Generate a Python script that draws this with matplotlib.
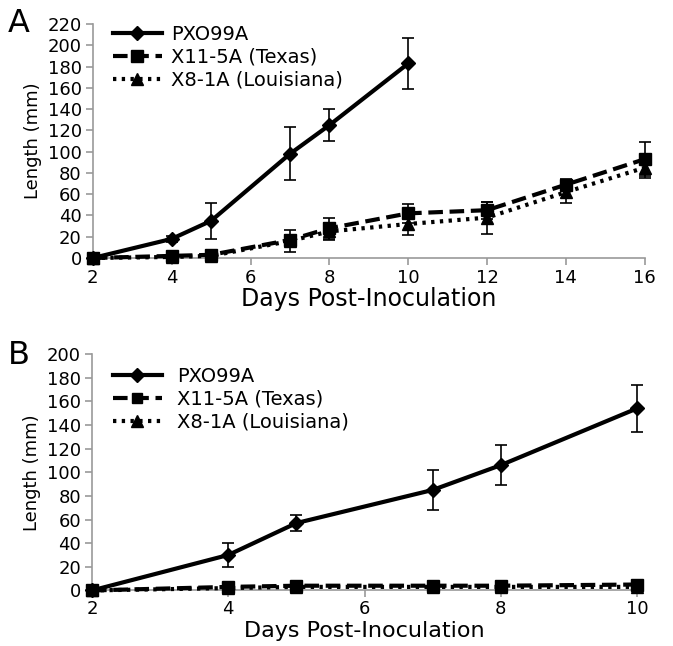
import matplotlib.pyplot as plt
from matplotlib.lines import Line2D

plt.rcParams['font.family'] = ['DejaVu Sans']

# Panel A data
days_a_pxo = [2, 4, 5, 7, 8, 10]
pxo_a = [0, 18, 35, 98, 125, 183]
pxo_a_err = [0, 3, 17, 25, 15, 24]

days_a = [2, 4, 5, 7, 8, 10, 12, 14, 16]
tex_a = [0, 2, 3, 17, 28, 42, 45, 69, 93]
tex_a_err = [0, 1, 2, 5, 10, 9, 8, 5, 16]
lou_a = [0, 1, 2, 16, 25, 32, 38, 62, 85]
lou_a_err = [0, 1, 2, 10, 8, 10, 15, 10, 10]

# Panel B data
days_b = [2, 4, 5, 7, 8, 10]
pxo_b = [0, 30, 57, 85, 106, 154]
pxo_b_err = [0, 10, 7, 17, 17, 20]
tex_b = [0, 3, 4, 4, 4, 5]
tex_b_err = [0, 1, 1, 1, 1, 1]
lou_b = [0, 2, 3, 3, 3, 3]
lou_b_err = [0, 1, 1, 1, 1, 1]

labels = ["PXO99A", "X11-5A (Texas)", "X8-1A (Louisiana)"]

DASH = (0, (3.5, 1.6))
DOT = (0, (0.8, 1.3))

fig = plt.figure(figsize=(6.73, 6.46), dpi=100)
ax_a = fig.add_axes([0.138, 0.6006, 0.820, 0.362])
ax_b = fig.add_axes([0.1367, 0.086, 0.810, 0.366])

def style(ax, xticks, ylim, yticks, xlabel_y, xsize, pad):
    for s in ["top", "right"]:
        ax.spines[s].set_visible(False)
    for s in ["left", "bottom"]:
        ax.spines[s].set_color("#999999")
        ax.spines[s].set_linewidth(1.2)
    ax.set_xticks(xticks)
    ax.set_yticks(yticks)
    ax.set_xlim(xticks[0], xticks[-1])
    ax.set_ylim(*ylim)
    ax.tick_params(colors="#999999", labelcolor="black", labelsize=13, length=5, width=1.2, pad=3)
    ax.tick_params(axis="x", pad=pad)
    ax.set_ylabel("Length (mm)", fontsize=13, labelpad=4)
    ax.set_xlabel("Days Post-Inoculation", fontsize=xsize)
    ax.xaxis.set_label_coords(0.5, xlabel_y)

def series(ax, x, y, err, ls, marker, ms):
    ax.errorbar(x, y, yerr=err, color="black", ls=ls, lw=3, marker=marker, ms=ms,
                elinewidth=1.2, capsize=4, capthick=1.2, clip_on=False, zorder=3)

series(ax_a, days_a_pxo, pxo_a, pxo_a_err, "-", "D", 7)
series(ax_a, days_a, tex_a, tex_a_err, DASH, "s", 9)
series(ax_a, days_a, lou_a, lou_a_err, DOT, "^", 8)
style(ax_a, [2, 4, 6, 8, 10, 12, 14, 16], (0, 220), range(0, 221, 20), -0.125, 17, 3)

series(ax_b, days_b, pxo_b, pxo_b_err, "-", "D", 7)
series(ax_b, days_b, tex_b, tex_b_err, DASH, "s", 8)
series(ax_b, days_b, lou_b, lou_b_err, DOT, "^", 8)
style(ax_b, [2, 4, 6, 8, 10], (0, 200), range(0, 201, 20), -0.128, 16, 2)

def legend(ax, anchor, textpad, ms_sq):
    handles = [
        Line2D([], [], color="black", lw=3, ls="-", marker="D", ms=7),
        Line2D([], [], color="black", lw=3, ls=DASH, marker="s", ms=ms_sq),
        Line2D([], [], color="black", lw=3, ls=DOT, marker="^", ms=8),
    ]
    ax.legend(handles, labels, loc="upper left", frameon=False, fontsize=14,
              bbox_to_anchor=anchor, bbox_transform=fig.transFigure,
              borderaxespad=0, borderpad=0, handlelength=2.5,
              handletextpad=textpad, labelspacing=0.2)

legend(ax_a, (113 / 673, 1 - 25 / 646), 0.5, 9)
legend(ax_b, (113 / 673, 1 - 367 / 646), 0.8, 7)

fig.text(8 / 673, 1 - 8 / 646, "A", fontsize=23, va="top")
fig.text(8 / 673, 1 - 340 / 646, "B", fontsize=23, va="top")

fig.savefig("out.png", dpi=100)
